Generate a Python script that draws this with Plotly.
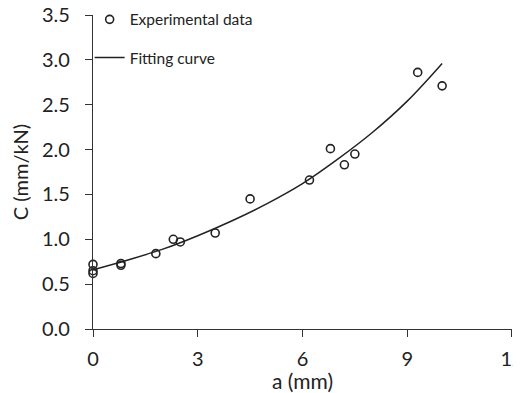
import plotly.graph_objects as go

exp_a = [0, 0, 0, 0.8, 0.8, 1.8, 2.3, 2.5, 3.5, 4.5, 6.2, 6.8, 7.2, 7.5, 9.3, 10.0]
exp_c = [0.72, 0.65, 0.62, 0.73, 0.71, 0.84, 1.00, 0.97, 1.07, 1.45, 1.66, 2.01, 1.83, 1.95, 2.86, 2.71]

# Fitting curve
fit_a = [0, 1, 2, 3, 4, 5, 6, 7, 8, 9, 10]
fit_c = [0.66, 0.77, 0.89, 1.04, 1.21, 1.40, 1.62, 1.89, 2.19, 2.54, 2.96]

x_ticks = [0, 3, 6, 9, 12]
y_ticks = [0.0, 0.5, 1.0, 1.5, 2.0, 2.5, 3.0, 3.5]

FONT = "Lato"

fig = go.Figure()
fig.add_trace(go.Scatter(
    x=exp_a, y=exp_c, mode="markers", name="Experimental data",
    legendgroup="a", cliponaxis=False,
    marker=dict(symbol="circle-open", size=8, color="#222", line=dict(width=1.6, color="#222")),
))
fig.add_trace(go.Scatter(
    x=fit_a, y=fit_c, mode="lines", name="Fitting curve",
    legendgroup="b",
    line=dict(color="#222", width=1.5, shape="spline"),
))

axis_common = dict(
    showgrid=False, zeroline=False, showline=True, linecolor="#333", linewidth=1.3,
    ticks="outside", ticklen=7, tickwidth=1.3, tickcolor="#333",
    tickfont=dict(family=FONT, size=20, color="#222"),
    automargin=False, ticklabeloverflow="allow",
)

fig.update_layout(
    width=521, height=385,
    margin=dict(l=84.5, r=17, t=7, b=64, autoexpand=False),
    plot_bgcolor="white", paper_bgcolor="white",
    font=dict(family=FONT, color="#222"),
    xaxis=dict(range=[0, 12.001], tickvals=x_ticks, ticktext=[str(v) for v in x_ticks],
               title=dict(text="a (mm)", font=dict(family=FONT, size=21), standoff=0),
               ticklabelstandoff=5,
               **axis_common),
    yaxis=dict(range=[0, 3.5], tickvals=y_ticks, ticktext=[f"{v:.1f}" for v in y_ticks],
               title=dict(text="C (mm/kN)", font=dict(family=FONT, size=20), standoff=16),
               ticklabelstandoff=11,
               **axis_common),
    legend=dict(x=-0.008, y=1.039,
                xanchor="left", yanchor="top", bgcolor="rgba(0,0,0,0)",
                font=dict(family=FONT, size=15.5, color="#222"), tracegroupgap=15,
                itemwidth=30),
    showlegend=True,
)

fig.write_html("out.html")
